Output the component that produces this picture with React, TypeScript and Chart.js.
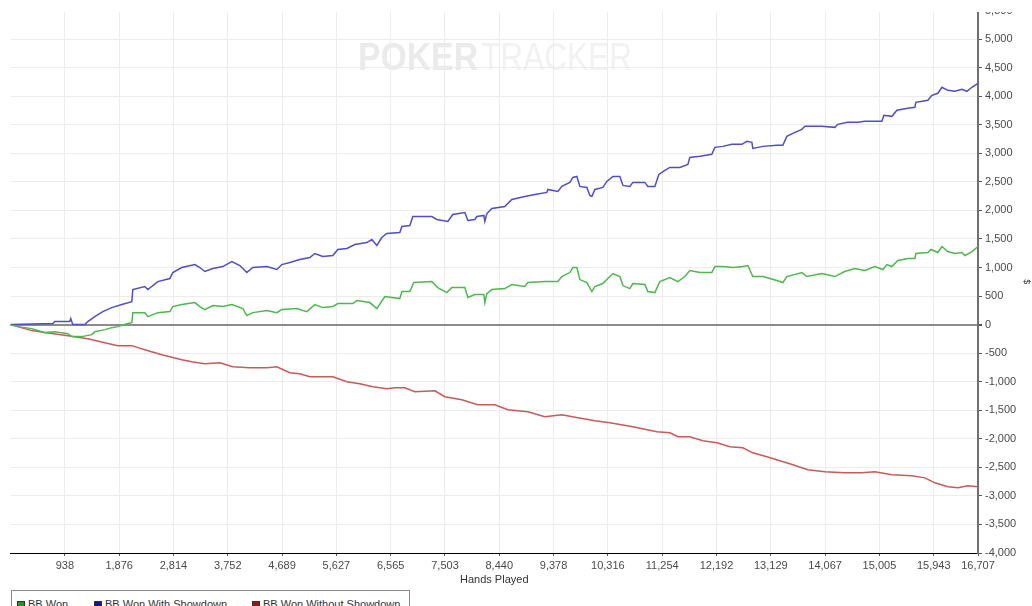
import React, { useEffect, useRef } from "react";
import { Chart, registerables } from "chart.js";

Chart.register(...registerables);

// ---------- data ----------
const xTickValues = [938, 1876, 2814, 3752, 4689, 5627, 6565, 7503, 8440, 9378, 10316, 11254, 12192, 13129, 14067, 15005, 15943, 16707];
const xMax = 16707;
const yMin = -4000;
const yMax = 5500;
const yStep = 500;

const seriesNames = ["BB Won", "BB Won With Showdown", "BB Won Without Showdown"];

// [hands, bb]
const bbWon: [number, number][] = [
  [0, 0], [126, -35], [368, -70], [592, -140], [765, -123], [990, -158], [1059, -210], [1231, -210], [1404, -175], [1456, -123],
  [1629, -88], [1749, -53], [1853, -35], [2026, 18], [2095, 35], [2112, 210], [2319, 210], [2371, 140], [2544, 210], [2751, 228],
  [2803, 316], [2958, 351], [3183, 386], [3269, 316], [3356, 263], [3494, 333], [3666, 316], [3822, 351], [4012, 281], [4081, 158],
  [4185, 210], [4426, 246], [4599, 210], [4685, 263], [4944, 281], [5117, 228], [5255, 351], [5393, 298], [5566, 316], [5652, 368],
  [5911, 368], [5981, 421], [6205, 386], [6326, 281], [6464, 491], [6723, 456], [6758, 579], [6896, 579], [6965, 737], [7276, 754],
  [7379, 649], [7535, 561], [7621, 649], [7846, 649], [7898, 474], [8018, 526], [8174, 526], [8191, 386], [8226, 544], [8312, 614],
  [8536, 631], [8657, 702], [8882, 667], [8934, 737], [9227, 754], [9452, 754], [9521, 842], [9659, 912], [9711, 1000], [9780, 1000],
  [9832, 789], [9953, 737], [10039, 579], [10091, 667], [10229, 719], [10298, 789], [10402, 895], [10523, 842], [10576, 684], [10695, 631],
  [10747, 719], [10954, 702], [11006, 579], [11127, 561], [11213, 754], [11386, 824], [11524, 754], [11645, 842], [11731, 947], [11904, 912],
  [12111, 912], [12163, 1017], [12301, 1017], [12474, 1000], [12646, 1017], [12733, 1035], [12819, 842], [12992, 842], [13234, 772], [13337, 737],
  [13406, 842], [13666, 912], [13752, 842], [14011, 895], [14236, 842], [14404, 930], [14581, 982], [14754, 947], [14926, 1017], [15065, 965],
  [15134, 1052], [15220, 1017], [15324, 1123], [15496, 1158], [15617, 1158], [15634, 1245], [15842, 1263], [15894, 1316], [16014, 1263], [16084, 1368],
  [16187, 1280], [16308, 1245], [16429, 1263], [16481, 1210], [16602, 1280], [16707, 1368],
];

const bbWonWithShowdown: [number, number][] = [
  [0, 0], [731, 18], [765, 53], [1024, 53], [1041, 105], [1076, 0], [1283, 0], [1335, 53], [1456, 140], [1594, 228],
  [1749, 298], [1922, 351], [2095, 403], [2112, 614], [2319, 667], [2371, 614], [2544, 754], [2751, 807], [2803, 912], [2958, 1000],
  [3183, 1052], [3269, 1000], [3356, 930], [3494, 982], [3666, 1017], [3822, 1105], [3960, 1035], [4081, 912], [4185, 1000], [4426, 1017],
  [4599, 965], [4685, 1052], [4823, 1087], [4996, 1140], [5169, 1175], [5255, 1245], [5393, 1193], [5566, 1210], [5652, 1316], [5808, 1333],
  [5946, 1403], [6153, 1438], [6240, 1491], [6326, 1386], [6412, 1526], [6498, 1596], [6723, 1614], [6758, 1719], [6896, 1736], [6948, 1894],
  [7276, 1894], [7362, 1842], [7552, 1807], [7638, 1929], [7846, 1964], [7898, 1824], [8018, 1842], [8053, 1894], [8174, 1912], [8191, 1807],
  [8226, 1946], [8312, 2035], [8536, 2070], [8657, 2193], [8882, 2245], [9055, 2280], [9262, 2315], [9279, 2368], [9452, 2333], [9521, 2421],
  [9659, 2491], [9711, 2578], [9780, 2596], [9832, 2421], [9953, 2403], [10005, 2263], [10039, 2245], [10091, 2368], [10229, 2403], [10298, 2508],
  [10402, 2596], [10523, 2596], [10576, 2438], [10695, 2421], [10747, 2491], [10954, 2491], [11006, 2421], [11127, 2421], [11196, 2631], [11300, 2701],
  [11386, 2754], [11559, 2754], [11697, 2806], [11731, 2929], [11904, 2947], [12111, 2982], [12163, 3105], [12301, 3122], [12457, 3157], [12630, 3157],
  [12716, 3210], [12802, 3192], [12819, 3087], [12992, 3122], [13234, 3140], [13337, 3140], [13406, 3298], [13545, 3368], [13666, 3420], [13718, 3473],
  [13838, 3473], [14011, 3473], [14236, 3455], [14283, 3508], [14456, 3543], [14634, 3543], [14754, 3561], [15047, 3561], [15082, 3666], [15220, 3648],
  [15307, 3754], [15496, 3789], [15617, 3806], [15634, 3894], [15842, 3929], [15911, 4017], [16014, 4052], [16084, 4157], [16187, 4104], [16308, 4087],
  [16429, 4122], [16515, 4087], [16602, 4157], [16707, 4227],
];

const bbWonWithoutShowdown: [number, number][] = [
  [0, 0], [368, -105], [592, -140], [990, -193], [1335, -246], [1629, -316], [1853, -368], [2095, -368], [2319, -439], [2613, -526],
  [2958, -614], [3131, -649], [3356, -684], [3615, -667], [3839, -737], [4133, -754], [4426, -754], [4599, -737], [4823, -842], [4996, -859],
  [5169, -912], [5393, -912], [5566, -912], [5808, -1000], [6032, -1035], [6257, -1087], [6498, -1123], [6637, -1105], [6809, -1105], [6982, -1175],
  [7328, -1158], [7500, -1263], [7794, -1316], [8070, -1403], [8364, -1403], [8588, -1491], [8934, -1526], [9227, -1614], [9521, -1579], [9797, -1631],
  [10091, -1684], [10350, -1719], [10747, -1789], [11162, -1877], [11386, -1894], [11524, -1964], [11731, -1964], [11956, -2035], [12198, -2070], [12422, -2140],
  [12646, -2157], [12819, -2245], [13061, -2315], [13286, -2385], [13458, -2438], [13769, -2543], [14063, -2578], [14404, -2596], [14702, -2596], [14926, -2578],
  [15220, -2631], [15565, -2649], [15790, -2684], [15963, -2771], [16187, -2841], [16360, -2859], [16532, -2824], [16707, -2841],
];

const lineColors = ["#4db84d", "#4e4ec6", "#c85a5a"];
const legendSwatches = ["#1e9a1e", "#1414a0", "#a01414"];

const FONT = '"Liberation Sans", Arial, sans-serif';

function fitText(ctx: CanvasRenderingContext2D, text: string, x: number, y: number, width: number, color: string) {
  const w = ctx.measureText(text).width;
  ctx.save();
  ctx.translate(x, y);
  ctx.scale(width / w, 1);
  ctx.fillStyle = color;
  ctx.fillText(text, 0, 0);
  ctx.restore();
}

const watermarkPlugin = {
  id: "watermark",
  beforeDraw(chart: any) {
    const ctx = chart.ctx as CanvasRenderingContext2D;
    ctx.save();
    ctx.textBaseline = "alphabetic";
    ctx.textAlign = "left";
    ctx.font = `bold 38px ${FONT}`;
    fitText(ctx, "POKER", 358, 69, 120, "#ebebeb");
    ctx.font = `38px ${FONT}`;
    fitText(ctx, "TRACKER", 481, 69, 151, "#f2f2f2");
    ctx.restore();
  },
};

export default function App() {
  const canvasRef = useRef<HTMLCanvasElement | null>(null);

  useEffect(() => {
    if (!canvasRef.current) return;
    const fmt = (v: any) => Number(v).toLocaleString("en-US");
    const series = [bbWon, bbWonWithShowdown, bbWonWithoutShowdown];
    const chart = new Chart(canvasRef.current, {
      type: "line",
      data: {
        datasets: series.map((s, i) => ({
          label: seriesNames[i],
          data: s.map(([x, y]) => ({ x, y })),
          borderColor: lineColors[i],
          backgroundColor: lineColors[i],
          borderWidth: 1.5,
          pointRadius: 0,
          fill: false,
          tension: 0,
        })),
      },
      options: {
        responsive: false,
        animation: false,
        devicePixelRatio: 1,
        layout: { padding: { left: 10.5, right: 0, top: 0, bottom: 0 } },
        plugins: { legend: { display: false }, tooltip: { enabled: false } },
        scales: {
          x: {
            type: "linear",
            min: 0,
            max: xMax,
            afterBuildTicks: (s: any) => {
              s.ticks = xTickValues.map((v) => ({ value: v }));
            },
            afterFit: (s: any) => {
              s.height = 38;
            },
            ticks: {
              autoSkip: false,
              maxRotation: 0,
              color: "#4a4a4a",
              padding: 3,
              font: { family: FONT, size: 11 },
              callback: fmt,
            },
            grid: { color: "#ececec", lineWidth: 1, tickColor: "#555", tickLength: 3 },
            border: { color: "#000", width: 1 },
            title: {
              display: true,
              text: "Hands Played",
              color: "#333",
              font: { family: FONT, size: 11 },
              padding: { top: 4, bottom: 4 },
            },
          },
          y: {
            type: "linear",
            position: "right",
            min: yMin,
            max: yMax,
            afterFit: (s: any) => {
              s.width = 54;
            },
            ticks: {
              stepSize: yStep,
              color: "#4a4a4a",
              padding: 3,
              font: { family: FONT, size: 11 },
              callback: fmt,
            },
            grid: {
              color: (c: any) => (c.tick && c.tick.value === 0 ? "#8c8c8c" : "#ececec"),
              lineWidth: (c: any) => (c.tick && c.tick.value === 0 ? 2 : 1),
              tickColor: "#555",
              tickLength: 4,
            },
            border: { color: "#707070", width: 2 },
            title: {
              display: true,
              text: "$",
              color: "#333",
              font: { family: FONT, size: 9 },
              padding: 0,
            },
          },
        },
      },
      plugins: [watermarkPlugin],
    } as any);
    return () => chart.destroy();
  }, []);

  const legendItems = [
    { x: 17, tx: 28 },
    { x: 94, tx: 105 },
    { x: 252, tx: 263 },
  ];

  return (
    <div
      style={{
        position: "fixed",
        left: 0,
        top: 0,
        width: 1032,
        height: 606,
        overflow: "hidden",
        background: "#fff",
        fontFamily: FONT,
      }}
    >
      <div style={{ position: "absolute", left: 0, top: 12, width: 1032, height: 594, overflow: "hidden" }}>
        <canvas
          ref={canvasRef}
          width={1032}
          height={590}
          style={{ position: "absolute", left: 0, top: -11, width: 1032, height: 590 }}
        />
      </div>
      <div
        style={{
          position: "absolute",
          left: 11,
          top: 590,
          width: 397,
          height: 30,
          border: "1px solid #8a8a8a",
          background: "#fff",
        }}
      >
        {legendItems.map((it, i) => (
          <React.Fragment key={i}>
            <div
              style={{
                position: "absolute",
                left: it.x - 12,
                top: 10,
                width: 8,
                height: 8,
                background: legendSwatches[i],
                border: "1px solid #333",
                boxSizing: "border-box",
              }}
            />
            <div
              style={{
                position: "absolute",
                left: it.tx - 12,
                top: 7,
                fontSize: 11,
                color: "#333",
                whiteSpace: "nowrap",
                lineHeight: "13px",
              }}
            >
              {seriesNames[i]}
            </div>
          </React.Fragment>
        ))}
      </div>
    </div>
  );
}
